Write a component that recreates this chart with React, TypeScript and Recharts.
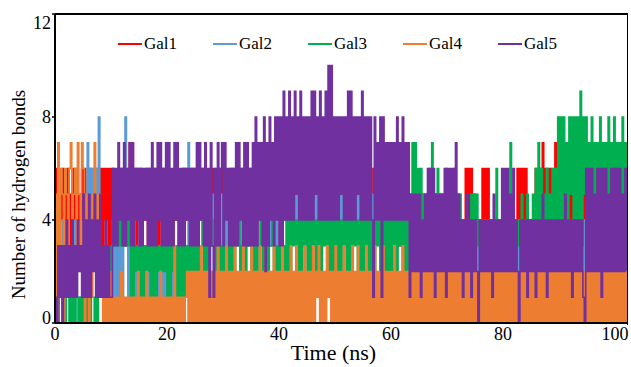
import React from 'react';
import { LineChart, Line, XAxis, YAxis } from 'recharts';

// sampling interval of the trajectory (ns per point)
const STEP_NS = 0.25;

// hydrogen bond counts (one row = 5 ns)
const gal1 = [
  4,6,3,5,4,6,3,5,4,6,3,5,4,6,3,6,4,5,3,6,
  4,6,3,5,4,6,3,5,4,6,3,6,4,6,3,6,4,6,3,6,
  3,6,3,5,4,6,3,6,4,6,3,6,4,7,3,7,4,6,3,6,
  4,6,3,5,4,6,3,6,4,5,3,6,4,6,3,5,4,6,3,6,
  3,6,4,5,3,6,4,6,3,5,4,6,3,6,4,5,3,6,4,6,
  4,6,3,5,4,6,3,6,4,5,3,6,4,6,3,5,4,6,3,6,
  3,6,4,5,3,6,4,6,3,5,4,6,3,6,4,5,3,6,4,6,
  4,6,3,5,4,6,3,6,4,5,3,6,4,6,3,5,4,6,3,6,
  4,6,4,5,4,6,4,6,4,5,4,6,4,6,4,5,4,6,4,6,
  4,6,4,5,4,6,4,6,4,5,4,6,4,6,4,5,4,6,4,6,
  4,6,4,5,4,6,4,6,4,5,4,6,4,6,4,5,4,6,4,6,
  4,6,4,5,4,6,4,6,4,5,4,6,4,6,4,5,4,6,4,6,
  4,6,3,5,4,6,3,6,4,5,3,6,4,5,3,5,3,5,2,5,
  3,5,2,5,3,5,2,4,3,5,2,5,3,5,2,5,3,4,2,5,
  3,5,2,5,3,5,2,5,3,4,3,4,4,6,4,6,4,6,4,5,
  3,4,3,4,3,6,4,6,4,6,4,3,4,3,4,3,4,3,4,3,
  3,4,3,4,3,4,3,4,3,4,6,4,6,4,6,4,6,4,3,4,
  3,4,3,6,4,6,4,6,7,4,6,4,6,4,6,3,4,7,4,3,
  4,6,4,6,4,5,4,6,4,6,4,5,4,6,4,6,4,5,4,6,
  3,5,3,6,3,5,3,6,3,5,3,6,3,5,3,6,3,5,3,6,
  3,5,3,6,3,5,3,6,3,
];

const gal2 = [
  2,4,1,3,2,4,1,3,2,4,1,3,2,4,1,3,0,1,0,1,
  0,2,1,7,4,6,4,6,4,6,5,8,2,3,1,3,2,3,1,3,
  1,3,1,3,1,3,1,3,1,3,8,3,1,3,1,3,2,3,1,3,
  1,3,1,3,2,3,1,3,1,3,1,3,1,3,1,2,1,2,1,2,
  1,3,1,3,1,3,2,3,1,3,1,3,2,3,3,7,3,4,3,4,
  3,5,3,5,4,5,3,5,3,5,4,5,3,5,3,5,4,5,3,5,
  3,5,3,5,4,5,3,5,3,5,4,5,3,5,3,7,4,5,3,5,
  3,5,3,5,4,5,3,5,3,5,4,5,3,5,3,5,4,5,3,5,
  4,6,4,5,4,6,4,5,4,6,4,5,4,6,4,5,4,6,4,5,
  4,6,4,5,4,6,4,5,4,6,4,5,4,6,4,5,4,6,4,5,
  4,6,4,5,4,6,3,4,4,6,4,5,4,6,4,5,4,6,4,5,
  4,6,4,5,4,6,4,5,4,6,4,5,4,6,4,5,4,6,4,5,
  4,6,4,5,4,6,4,5,4,6,4,5,4,5,3,5,3,5,3,5,
  3,5,3,4,3,5,3,4,3,5,3,4,3,5,3,4,3,5,3,4,
  3,5,3,4,3,5,3,4,3,4,3,4,3,4,3,4,3,4,3,4,
  3,4,2,4,3,4,2,4,3,4,2,4,3,4,2,4,3,4,2,4,
  3,4,2,4,3,4,2,4,3,4,2,4,3,4,2,4,3,4,2,4,
  3,4,2,4,3,4,2,4,3,4,2,4,3,4,2,4,3,4,2,4,
  3,4,2,4,3,4,2,4,3,4,2,4,3,4,2,4,3,4,2,4,
  3,5,3,4,3,5,3,4,3,5,3,4,3,5,3,4,3,5,3,4,
  3,5,3,4,3,5,3,4,3,
];

const gal3 = [
  0,1,0,1,1,0,1,0,1,1,0,1,0,1,0,1,1,0,1,0,
  1,0,1,0,1,0,1,1,0,1,0,1,2,1,2,1,2,1,2,1,
  3,4,3,4,3,5,3,4,3,4,3,4,3,4,1,3,1,3,2,3,
  1,3,1,3,1,3,2,3,1,3,1,3,1,3,2,3,2,3,2,3,
  1,3,1,3,2,3,1,3,1,3,1,3,1,3,2,3,2,4,2,3,
  2,3,2,3,3,4,2,3,2,3,2,3,3,4,2,3,2,3,2,3,
  2,3,2,3,2,4,2,3,2,3,3,4,2,3,2,3,2,3,3,4,
  2,3,2,3,2,3,3,4,2,3,2,3,2,3,3,4,2,3,2,3,
  2,3,2,3,2,4,2,4,2,4,3,4,2,4,2,4,2,4,3,4,
  2,4,2,4,3,4,2,4,2,4,2,4,3,4,2,4,2,4,2,4,
  2,4,2,4,2,4,3,4,2,4,2,4,2,4,3,4,2,4,2,4,
  2,4,3,4,2,4,2,4,2,4,3,4,2,4,2,4,2,4,2,4,
  2,4,2,4,2,4,3,4,2,4,2,4,2,4,3,7,3,7,3,6,
  3,6,3,5,3,5,3,6,3,7,3,5,3,6,3,5,3,5,3,6,
  3,5,3,5,3,6,3,5,3,5,3,4,3,4,3,4,3,5,4,5,
  4,5,3,4,2,4,3,4,3,4,3,4,3,4,3,6,3,4,3,4,
  3,4,3,4,3,7,3,4,3,4,3,4,3,5,3,4,3,5,3,4,
  4,5,4,6,4,7,4,6,4,5,4,6,4,5,4,6,4,6,4,8,
  4,8,4,8,4,7,4,8,5,8,4,8,4,8,4,9,4,8,5,8,
  5,7,5,8,5,7,3,7,5,8,5,7,5,7,2,8,5,7,5,8,
  5,7,5,7,3,8,5,7,5,
];

const gal4 = [
  5,0,7,1,6,5,0,6,5,1,6,7,2,5,6,1,7,5,2,7,
  6,0,5,1,0,4,1,5,7,2,5,4,5,1,0,1,0,1,0,2,
  0,1,0,1,0,1,0,2,0,1,0,1,0,1,0,1,0,1,0,2,
  0,1,0,1,0,2,0,1,0,1,0,1,0,1,0,2,0,1,0,1,
  0,1,0,1,0,3,0,1,0,1,0,1,0,1,2,0,2,0,2,0,
  2,0,2,0,3,0,2,0,2,0,2,0,2,0,2,0,3,0,2,0,
  2,0,3,0,2,0,2,0,3,0,2,0,2,0,3,0,2,0,2,0,
  3,0,2,0,2,0,3,0,2,0,3,0,2,0,2,0,3,0,2,0,
  2,0,3,0,2,0,2,0,3,0,2,0,3,0,2,0,2,0,3,0,
  2,0,2,0,3,0,2,1,3,0,2,0,2,0,3,1,2,0,2,0,
  3,0,2,0,2,0,3,0,2,0,2,0,3,0,2,0,3,0,2,0,
  2,0,3,0,2,0,2,0,3,0,2,0,2,0,3,0,2,0,2,0,
  2,0,3,0,2,0,2,0,3,0,2,0,2,0,2,0,2,0,2,0,
  2,0,2,0,2,0,2,0,2,0,2,0,2,0,2,0,2,0,2,0,
  2,0,2,0,2,0,2,0,2,0,2,0,2,0,2,0,2,0,2,0,
  2,0,2,0,2,0,2,0,2,0,2,0,2,0,2,0,2,0,2,0,
  2,0,2,0,2,0,2,0,2,0,2,0,2,0,2,0,2,0,2,0,
  2,0,2,0,2,0,2,0,2,0,2,0,2,0,2,0,2,0,2,0,
  2,0,2,0,2,0,2,0,2,0,2,0,2,0,2,0,2,0,2,0,
  2,0,2,0,2,0,2,0,2,0,2,0,2,0,2,0,2,0,2,0,
  2,0,2,0,2,0,2,0,2,
];

const gal5 = [
  1,0,3,1,3,0,3,1,4,1,3,1,4,1,3,1,4,2,3,1,
  5,1,4,1,5,1,4,2,5,1,4,1,5,1,3,1,4,1,3,1,
  1,6,3,6,3,7,4,6,3,7,3,6,4,7,3,7,3,6,4,6,
  3,6,3,6,4,6,3,6,3,7,3,6,3,7,4,7,3,6,3,7,
  3,7,3,6,3,7,4,7,3,6,3,6,3,6,4,6,3,6,3,6,
  3,7,3,7,4,6,3,7,3,6,1,7,3,1,6,3,7,3,6,7,
  3,7,4,6,3,6,3,6,3,7,3,7,4,6,3,7,3,7,3,6,
  3,7,3,8,3,7,4,7,3,8,2,7,3,8,4,7,3,8,4,8,
  3,8,3,9,4,8,4,9,4,8,4,9,5,8,4,9,4,8,4,8,
  4,8,4,9,4,9,5,8,4,9,4,8,4,9,4,10,4,10,4,8,
  4,8,4,8,5,8,4,8,4,9,4,9,4,8,4,8,5,8,4,9,
  4,8,4,8,4,8,4,1,8,4,7,4,8,1,8,4,7,4,7,4,
  7,4,7,4,8,4,7,4,8,4,7,4,7,1,5,2,5,2,5,2,
  5,1,4,2,5,2,6,2,6,2,6,1,5,2,5,2,5,2,6,1,
  6,2,6,2,6,2,7,2,5,2,4,1,4,2,5,2,4,1,4,2,
  4,2,0,4,2,4,2,4,2,4,2,4,1,5,2,4,2,4,2,6,
  2,6,2,6,2,5,2,6,2,4,2,0,4,2,4,2,4,1,4,2,
  4,2,4,1,4,2,4,2,5,2,4,1,4,2,4,2,4,2,4,2,
  4,2,4,2,5,2,4,2,4,1,4,2,4,2,4,2,4,1,0,6,
  2,6,2,6,2,5,2,6,2,6,1,6,2,6,2,5,2,6,2,6,
  2,6,2,6,2,5,2,6,2,
];

const seriesNames = ['Gal1', 'Gal2', 'Gal3', 'Gal4', 'Gal5'];
const seriesColors = ['#ff0000', '#5b9bd5', '#00b050', '#ed7d31', '#7030a0'];
const xTicks = [0, 20, 40, 60, 80, 100];
const yTicks = [0, 4, 8, 12];

const allSeries = [gal1, gal2, gal3, gal4, gal5];
const pointCount = Math.max(...allSeries.map((s) => s.length));
const chartData = Array.from({ length: pointCount }, (_, i) => {
  const row: Record<string, number> = { t: i * STEP_NS };
  seriesNames.forEach((name, k) => {
    row[name] = allSeries[k][i];
  });
  return row;
});

const FONT = '"Liberation Serif", "Times New Roman", Times, serif';

// y tick labels: the end labels sit slightly inside the frame
const YTick = ({ x, y, payload }: any) => {
  const shift = payload.value === 0 ? -5 : payload.value === 12 ? 9 : 0;
  return (
    <text x={x} y={y + shift} dy={6} textAnchor="end" fill="#000" fontSize={18} fontFamily={FONT}>
      {payload.value}
    </text>
  );
};

const XTick = ({ x, y, payload }: any) => (
  <text x={x} y={y} dy={9} textAnchor="middle" fill="#000" fontSize={18} fontFamily={FONT}>
    {payload.value}
  </text>
);

export default function App() {
  return (
    <div style={{ position: 'absolute', left: 0, top: 0, width: 631, height: 367, background: '#fff' }}>
      <LineChart width={631} height={367} data={chartData} margin={{ top: 14, right: 3, left: 0, bottom: 0 }}>
        <XAxis
          dataKey="t"
          type="number"
          domain={[0, 102.3]}
          ticks={xTicks}
          allowDataOverflow
          height={44}
          tickLine={false}
          axisLine={{ stroke: '#000', strokeWidth: 2 }}
          tick={<XTick />}
          label={{
            content: ({ viewBox }: any) => (
              <text
                x={viewBox.x + viewBox.width / 2 - 8}
                y={viewBox.y + 37}
                textAnchor="middle"
                fill="#000"
                fontSize={22}
                fontFamily={FONT}
              >
                Time (ns)
              </text>
            ),
          }}
        />
        <YAxis
          type="number"
          domain={[0, 12]}
          ticks={yTicks}
          width={55}
          tickSize={3}
          tickMargin={1}
          tickLine={{ stroke: '#000', strokeWidth: 1.5 }}
          axisLine={{ stroke: '#000', strokeWidth: 2 }}
          tick={<YTick />}
          label={{
            content: ({ viewBox }: any) => (
              <text
                x={18}
                y={viewBox.y + viewBox.height / 2 + 26}
                transform={`rotate(-90, 18, ${viewBox.y + viewBox.height / 2 + 26})`}
                textAnchor="middle"
                dominantBaseline="central"
                fill="#000"
                fontSize={19}
                fontFamily={FONT}
              >
                Number of hydrogen bonds
              </text>
            ),
          }}
        />
        {seriesNames.map((name, k) => (
          <Line
            key={name}
            type="stepAfter"
            dataKey={name}
            stroke={seriesColors[k]}
            strokeWidth={1.6}
            dot={false}
            activeDot={false}
            isAnimationActive={false}
          />
        ))}
      </LineChart>

      {/* frame: top and right edges */}
      <div
        style={{
          position: 'absolute',
          left: 55,
          top: 13,
          width: 572,
          height: 310,
          borderTop: '2px solid #000',
          borderRight: '1.5px solid #000',
          pointerEvents: 'none',
        }}
      />

      {/* legend */}
      <div style={{ position: 'absolute', left: 118, top: 34, display: 'flex', fontFamily: FONT, fontSize: 17 }}>
        {seriesNames.map((name, k) => (
          <div key={name} style={{ width: 95, display: 'flex', alignItems: 'center', height: 20 }}>
            <svg width={26} height={20} style={{ flexShrink: 0 }}>
              <line x1={0} y1={10} x2={24} y2={10} stroke={seriesColors[k]} strokeWidth={2} />
            </svg>
            <span style={{ color: '#000' }}>{name}</span>
          </div>
        ))}
      </div>
    </div>
  );
}
